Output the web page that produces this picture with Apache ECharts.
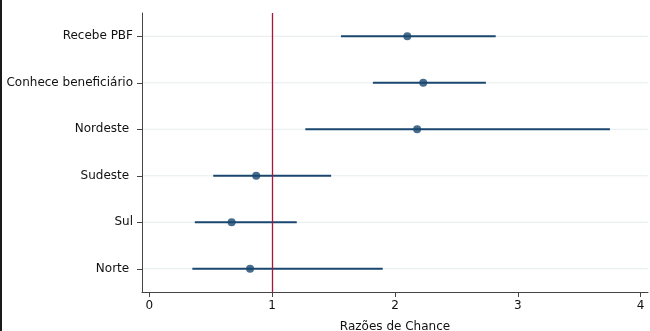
<!DOCTYPE html>
<html>
<head>
<meta charset="utf-8">
<script src="https://cdn.jsdelivr.net/npm/echarts@6/dist/echarts.min.js"></script>
<style>
  html, body { margin: 0; padding: 0; background: #fff; }
  #chart { width: 650px; height: 331px; }
</style>
</head>
<body>
<div id="chart"></div>
<script>
  // categories from top to bottom
  const categories = ['Recebe PBF', 'Conhece beneficiário', 'Nordeste ', 'Sudeste ', 'Sul', 'Norte ']
  // odds ratios and confidence limits
  const oddsRatio = [2.10, 2.23, 2.18, 0.87, 0.67, 0.82]
  const ciLower = [1.56, 1.82, 1.27, 0.52, 0.37, 0.35]
  const ciUpper = [2.82, 2.74, 3.75, 1.48, 1.20, 1.90]
  const xTicks = [0, 1, 2, 3, 4]
  const refValue = 1

  const navy = '#1a476f'
  const font = 'DejaVu Sans, Verdana, sans-serif'

  const ciData = categories.map((c, i) => [ciLower[i], ciUpper[i], i])
  const pointData = categories.map((c, i) => [oddsRatio[i], i])
  const rowData = categories.map((c, i) => [refValue, i])

  const chart = echarts.init(document.getElementById('chart'))
  chart.setOption({
    animation: false,
    backgroundColor: '#fff',
    graphic: [
      {
        type: 'rect',
        left: 0,
        top: 0,
        shape: { width: 2, height: 331 },
        style: { fill: '#1a1a1a' }
      }
    ],
    grid: {
      left: 142,
      right: 2,
      top: 13,
      bottom: 39,
      outerBoundsMode: 'none'
    },
    xAxis: {
      type: 'value',
      min: -0.06,
      max: 4.06,
      name: 'Razões de Chance',
      nameLocation: 'middle',
      nameGap: 29,
      nameTextStyle: { color: '#111', fontSize: 12, fontFamily: font },
      axisLine: { show: true, onZero: false, lineStyle: { color: '#444', width: 1 } },
      axisTick: { show: true, customValues: xTicks, length: 5, lineStyle: { color: '#444' } },
      axisLabel: { customValues: xTicks, color: '#111', fontSize: 12, fontFamily: font, margin: 8 },
      splitLine: { show: false }
    },
    yAxis: {
      type: 'category',
      data: categories,
      inverse: true,
      axisLine: { show: true, onZero: false, lineStyle: { color: '#444', width: 1 } },
      axisTick: { show: true, alignWithLabel: true, length: 5, lineStyle: { color: '#444' } },
      axisLabel: { color: '#111', fontSize: 12, fontFamily: font, margin: 9 },
      splitLine: { show: false }
    },
    series: [
      {
        // light row lines through each category
        type: 'custom',
        data: rowData,
        encode: { x: 0, y: 1 },
        silent: true,
        renderItem: function (params, api) {
          const p = api.coord([api.value(0), api.value(1)])
          const cs = params.coordSys
          return {
            type: 'line',
            shape: { x1: cs.x + 1, y1: p[1], x2: cs.x + cs.width, y2: p[1] },
            style: { stroke: '#e6ecee', lineWidth: 1 }
          }
        },
        z: 1
      },
      {
        type: 'custom',
        data: ciData,
        encode: { x: [0, 1], y: 2 },
        renderItem: function (params, api) {
          const a = api.coord([api.value(0), api.value(2)])
          const b = api.coord([api.value(1), api.value(2)])
          return {
            type: 'line',
            shape: { x1: a[0], y1: a[1], x2: b[0], y2: b[1] },
            style: { stroke: navy, lineWidth: 2 }
          }
        },
        z: 3
      },
      {
        type: 'scatter',
        data: pointData,
        symbol: 'circle',
        symbolSize: 8,
        itemStyle: { color: navy },
        z: 4,
        markLine: {
          silent: true,
          symbol: 'none',
          label: { show: false },
          lineStyle: { color: '#a8173a', type: 'solid', width: 1.3 },
          data: [{ xAxis: refValue }]
        }
      }
    ]
  })
</script>
</body>
</html>
